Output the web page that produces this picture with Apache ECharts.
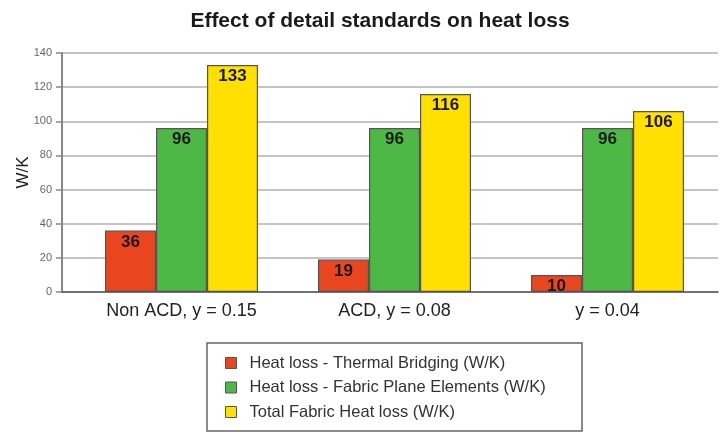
<!DOCTYPE html>
<html><head><meta charset="utf-8">
<script src="https://cdn.jsdelivr.net/npm/echarts@6/dist/echarts.min.js"></script>
<style>html,body{margin:0;padding:0;background:#fff}#c{width:725px;height:433px}</style>
</head><body><div id="c"></div>
<script>
const categories = ['Non ACD, y = 0.15', 'ACD, y = 0.08', 'y = 0.04'];
const thermalBridging = [36, 19, 10];
const fabricPlane = [96, 96, 96];
const totalFabric = [133, 116, 106];
const seriesNames = ['Heat loss - Thermal Bridging (W/K)', 'Heat loss - Fabric Plane Elements (W/K)', 'Total Fabric Heat loss (W/K)'];
const colors = ['#E9451F', '#4EB847', '#FFE000'];
const yTicks = [0, 20, 40, 60, 80, 100, 120, 140];

const chart = echarts.init(document.getElementById('c'));
const font = 'Liberation Sans, Arial, sans-serif';
function bar(name, data, color) {
  return {
    name, type: 'bar', data, xAxisIndex: 0, yAxisIndex: 0,
    barWidth: 51, barGap: '0%',
    itemStyle: { color, borderColor: '#555', borderWidth: 1.2 },
    label: { show: true, position: 'insideTop', distance: 3, color: '#1a1a1a', fontWeight: 'bold', fontSize: 17, fontFamily: font },
    z: 3
  };
}
chart.setOption({
  animation: false,
  title: { text: 'Effect of detail standards on heat loss', left: 375, textAlign: 'center', top: 6,
    textStyle: { fontSize: 21, fontWeight: 'bold', color: '#1a1a1a', fontFamily: font } },
  grid: [
    { left: 75, width: 639, top: 53, height: 239, outerBoundsMode: 'none', containLabel: false },
    { left: 62, right: 7, top: 53, height: 239, outerBoundsMode: 'none', containLabel: false }
  ],
  xAxis: [
    { type: 'category', data: categories, gridIndex: 0,
      axisLine: { show: false }, axisTick: { show: false },
      axisLabel: { color: '#222', fontSize: 18, fontFamily: font, margin: 10 } },
    { type: 'category', data: categories, gridIndex: 1,
      axisLine: { show: true, lineStyle: { color: '#555', width: 1.5 } }, axisTick: { show: false },
      axisLabel: { show: false } }
  ],
  yAxis: [
    { type: 'value', gridIndex: 0, min: 0, max: 140, interval: 20, show: false, splitLine: { show: false } },
    { type: 'value', gridIndex: 1, min: yTicks[0], max: yTicks[yTicks.length - 1], interval: 20,
      name: 'W/K', nameLocation: 'middle', nameGap: 30, nameRotate: 90, nameMoveOverlap: false,
      nameTextStyle: { fontSize: 17, color: '#222', fontFamily: font },
      axisLine: { show: true, lineStyle: { color: '#888', width: 2 } },
      axisTick: { show: true, length: 6, lineStyle: { color: '#888', width: 1.5 } },
      axisLabel: { color: '#666', fontSize: 11, fontFamily: font, margin: 10 },
      splitLine: { show: true, lineStyle: { color: '#b0b0b0', width: 1.5 } } }
  ],
  legend: {
    orient: 'vertical', left: 220, top: 349, itemGap: 6.5, itemWidth: 11, itemHeight: 11,
    icon: 'rect', data: seriesNames,
    itemStyle: { borderColor: '#555', borderWidth: 1 },
    textStyle: { fontSize: 16.5, lineHeight: 18, color: '#333', fontFamily: font, padding: [0, 0, 0, 8] }
  },
  graphic: [{ type: 'rect', shape: { x: 207, y: 343, width: 375, height: 88 },
    style: { fill: 'none', stroke: '#666', lineWidth: 1.5 }, z: 0 }],
  series: [
    bar(seriesNames[0], thermalBridging, colors[0]),
    bar(seriesNames[1], fabricPlane, colors[1]),
    bar(seriesNames[2], totalFabric, colors[2])
  ]
});
</script></body></html>
